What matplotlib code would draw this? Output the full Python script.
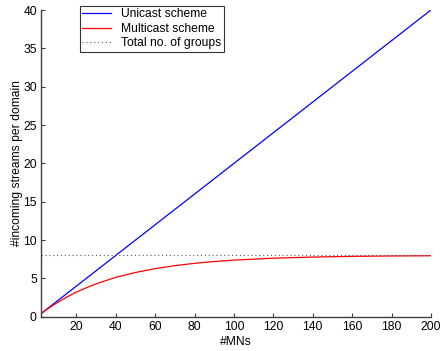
import matplotlib.pyplot as plt

plt.rcParams['font.family'] = ['Liberation Sans', 'DejaVu Sans']

# values
mns = [2, 5, 10, 15, 20, 25, 30, 40, 50, 60, 70, 80, 90, 100, 120, 140, 160, 180, 200]
unicast = [0.4, 1, 2, 3, 4, 5, 6, 8, 10, 12, 14, 16, 18, 20, 24, 28, 32, 36, 40]
multicast = [0.40, 0.96, 1.80, 2.55, 3.21, 3.77, 4.29, 5.13, 5.77, 6.27, 6.66,
             6.96, 7.20, 7.38, 7.63, 7.78, 7.87, 7.92, 7.95]
n_groups = 8

fs = 8.7

fig = plt.figure(figsize=(4.42, 3.51), dpi=100)
ax = fig.add_axes([0.0928, 0.0977, 0.8822, 0.8738])

ax.plot(mns, unicast, color='blue', lw=0.9, label='Unicast scheme')
ax.plot(mns, multicast, color='red', lw=0.9, label='Multicast scheme')
ax.plot([mns[0], mns[-1]], [n_groups, n_groups], color='#555555', lw=0.8,
        ls=(0, (1, 2.5)), label='Total no. of groups')

ax.set_xlim(mns[0], 200)
ax.set_ylim(0, 40)
ax.set_xticks(range(20, 201, 20))
ax.set_yticks(range(0, 41, 5))
ax.tick_params(direction='in', length=3, width=0.8, color='#404040',
               labelsize=fs, pad=3)
for s in ['top', 'right']:
    ax.spines[s].set_visible(False)
for s in ['left', 'bottom']:
    ax.spines[s].set_color('#404040')
    ax.spines[s].set_linewidth(1.0)

ax.set_xlabel('#MNs', fontsize=fs, labelpad=2)
ax.set_ylabel('#incoming streams per domain', fontsize=fs, labelpad=0)

leg = ax.legend(loc='upper left', bbox_to_anchor=(80 / 442, 1 - 6 / 351),
                bbox_transform=fig.transFigure, fontsize=fs, frameon=True,
                fancybox=False, borderpad=0.2, labelspacing=0.2,
                handlelength=2.4, handletextpad=0.8, borderaxespad=0)
leg.get_frame().set_edgecolor('black')
leg.get_frame().set_linewidth(0.8)

fig.savefig('out.png', dpi=100)
